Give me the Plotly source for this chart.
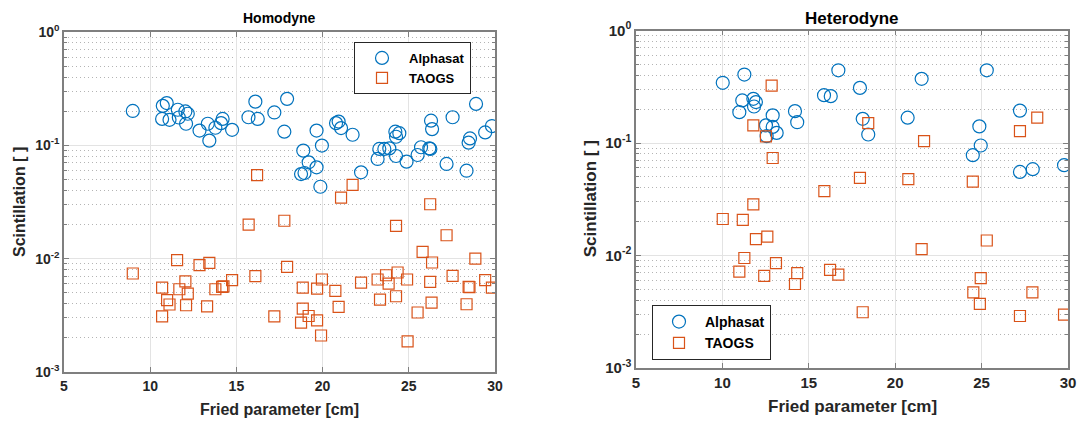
import plotly.graph_objects as go

# ---------------- data ----------------
# Homodyne (left panel)
homo_alphasat_r0 = [8.99, 10.73, 10.96, 10.69, 11.12, 11.60, 11.66, 12.04, 12.18, 12.08,
                    12.86, 13.34, 13.43, 13.78, 14.20, 14.11, 14.75, 15.70, 16.10, 16.24,
                    17.20, 17.94, 17.78, 18.88, 18.75, 18.95, 19.19, 19.65, 19.96, 19.65,
                    19.87, 20.78, 20.93, 21.07, 21.74, 22.23, 23.19, 23.29, 23.58, 23.87,
                    24.26, 24.22, 24.26, 24.45, 24.87, 25.51, 25.71, 26.19, 26.25, 26.29,
                    26.35, 27.19, 27.54, 28.35, 28.47, 28.55, 28.90, 29.43, 29.82]
homo_alphasat_sc = [0.201, 0.223, 0.236, 0.171, 0.168, 0.206, 0.176, 0.199, 0.190, 0.155,
                    0.135, 0.155, 0.110, 0.143, 0.171, 0.157, 0.137, 0.177, 0.243, 0.171,
                    0.195, 0.257, 0.132, 0.0898, 0.0558, 0.0570, 0.0708, 0.064, 0.0995, 0.135,
                    0.0431, 0.157, 0.162, 0.142, 0.124, 0.0578, 0.0758, 0.093, 0.093, 0.094,
                    0.0805, 0.132, 0.119, 0.128, 0.0718, 0.0822, 0.0962, 0.094, 0.093, 0.165,
                    0.139, 0.0685, 0.177, 0.0597, 0.1056, 0.115, 0.232, 0.130, 0.148]

homo_taogs_r0 = [16.20, 15.71, 17.78, 11.56, 12.86, 13.43, 8.99, 17.94, 16.10, 12.04,
                 14.75, 10.69, 11.69, 12.18, 13.78, 14.17, 14.25, 10.98, 11.12, 12.08,
                 13.30, 10.69, 17.20, 18.85, 18.85, 18.75, 21.74, 21.07, 26.24, 24.26,
                 27.19, 25.80, 26.35, 28.86, 19.96, 19.68, 20.74, 22.23, 23.19, 23.68,
                 23.83, 24.35, 24.90, 26.24, 27.54, 28.47, 28.52, 29.43, 29.82, 23.33,
                 24.26, 26.32, 28.35, 20.93, 19.19, 19.68, 19.91, 25.51, 24.93]
homo_taogs_sc = [0.0547, 0.0200, 0.0216, 0.0097, 0.00876, 0.00918, 0.0074, 0.00846, 0.0070, 0.0063,
                 0.00646, 0.00556, 0.00537, 0.00492, 0.00537, 0.00563, 0.0057, 0.0043, 0.00394, 0.00388,
                 0.0038, 0.0031, 0.0031, 0.00556, 0.00362, 0.00273, 0.0447, 0.0345, 0.0302, 0.0195,
                 0.0161, 0.0115, 0.00925, 0.0100, 0.00655, 0.00545, 0.0052, 0.00615, 0.00655, 0.00714,
                 0.00603, 0.00755, 0.00655, 0.00624, 0.00705, 0.00563, 0.0056, 0.00646, 0.00556, 0.00435,
                 0.00466, 0.0041, 0.00396, 0.00375, 0.00312, 0.00286, 0.0021, 0.00335, 0.00186]

# Heterodyne (right panel)
het_alphasat_r0 = [10.02, 11.27, 11.15, 10.98, 11.79, 11.94, 11.83, 12.91, 12.52, 12.91,
                   13.14, 12.56, 14.20, 14.33, 15.88, 16.27, 16.71, 17.96, 18.12, 18.44,
                   21.53, 20.72, 25.30, 24.87, 24.95, 24.49, 27.22, 27.22, 27.96, 29.77]
het_alphasat_sc = [0.343, 0.406, 0.239, 0.188, 0.247, 0.231, 0.211, 0.176, 0.1435, 0.139,
                   0.123, 0.115, 0.192, 0.153, 0.266, 0.261, 0.443, 0.309, 0.164, 0.119,
                   0.372, 0.168, 0.443, 0.1405, 0.095, 0.0779, 0.194, 0.0553, 0.0585, 0.0635]

het_taogs_r0 = [12.85, 11.79, 12.52, 12.91, 15.90, 17.96, 18.44, 21.67, 27.22, 28.22,
                20.76, 24.49, 11.79, 10.02, 11.18, 11.94, 12.60, 11.27, 10.98, 13.10,
                12.42, 14.33, 14.20, 16.23, 16.71, 25.30, 21.53, 24.95, 24.52, 24.90,
                27.94, 18.12, 27.22, 29.77]
het_taogs_sc = [0.324, 0.1435, 0.1146, 0.0736, 0.0374, 0.049, 0.150, 0.104, 0.1277, 0.168,
                0.0478, 0.0453, 0.0285, 0.0211, 0.0207, 0.0140, 0.0147, 0.0095, 0.0072, 0.00857,
                0.0066, 0.00698, 0.00558, 0.00746, 0.00675, 0.0136, 0.0114, 0.0063, 0.0047, 0.00372,
                0.0047, 0.00313, 0.0029, 0.00298]

x_ticks = [5, 10, 15, 20, 25, 30]
y_ticks = [1e-3, 1e-2, 1e-1, 1]
y_ticktext = ["10<sup>-3</sup>", "10<sup>-2</sup>", "10<sup>-1</sup>", "10<sup>0</sup>"]
y_minor = [m * 10.0 ** e for e in (-3, -2, -1) for m in range(2, 10)]

series_names = ["Alphasat", "TAOGS"]
panel_titles = ["Homodyne", "Heterodyne"]
x_title = "Fried parameter [cm]"
y_title = "Scintillation [ ]"

# ---------------- styling ----------------
BLUE = "#0072BD"
ORANGE = "#D95319"
FONT = "Liberation Sans, Arial, sans-serif"
W, H = 1077, 422

fig = go.Figure()

panels = [
    dict(x=(homo_alphasat_r0, homo_taogs_r0), y=(homo_alphasat_sc, homo_taogs_sc),
         xa="x", ya="y", legend="legend", px=(64, 495), py=(32, 372),
         tick=14, lab=16, tit=14, leg=13),
    dict(x=(het_alphasat_r0, het_taogs_r0), y=(het_alphasat_sc, het_taogs_sc),
         xa="x2", ya="y2", legend="legend2", px=(636, 1068), py=(30.5, 368),
         tick=15, lab=17, tit=17, leg=14),
]

for i, p in enumerate(panels):
    for k, (name, sym, col, size) in enumerate([(series_names[0], "circle-open", BLUE, 13),
                                                 (series_names[1], "square-open", ORANGE, 11)]):
        fig.add_trace(go.Scatter(
            x=p["x"][k], y=p["y"][k], mode="markers", name=name,
            marker=dict(symbol=sym, size=size, color=col, line=dict(width=1.2, color=col)),
            xaxis=p["xa"], yaxis=p["ya"], legend=p["legend"]))

def axis_common(tickfs):
    return dict(
        automargin=False,
        showline=True, linecolor="#7f7f7f", linewidth=1.5, mirror="ticks",
        ticks="inside", ticklen=5, tickcolor="#7f7f7f", tickwidth=1,
        showgrid=True, gridcolor="#e3e3e3", gridwidth=1, zeroline=False,
        tickfont=dict(family=FONT, size=tickfs, color="#262626", weight="bold"),
    )

layout = dict(
    width=W, height=H, margin=dict(l=0, r=0, t=0, b=0, autoexpand=False),
    paper_bgcolor="white", plot_bgcolor="white", showlegend=True,
    font=dict(family=FONT, size=14, color="#262626"),
)

annotations = []
for i, p in enumerate(panels):
    sfx = "" if i == 0 else "2"
    x0, x1 = p["px"]
    y0, y1 = p["py"]
    xd = [x0 / W, x1 / W]
    yd = [(H - y1) / H, (H - y0) / H]
    xa = axis_common(p["tick"])
    xa.update(domain=xd, range=[5, 30], tickvals=x_ticks, anchor="y" + sfx)
    ya = axis_common(p["tick"])
    ya.update(domain=yd, type="log", range=[-3, 0], tickvals=y_ticks, ticktext=y_ticktext,
              anchor="x" + sfx,
              minor=dict(tickmode="array", tickvals=y_minor, ticks="inside", ticklen=3,
                         tickcolor="#7f7f7f", showgrid=True, gridcolor="#b4b4b4",
                         griddash="1px,3px", gridwidth=1))
    layout["xaxis" + sfx] = xa
    layout["yaxis" + sfx] = ya

    cx = (x0 + x1) / 2 / W
    annotations.append(dict(text="<b>%s</b>" % panel_titles[i], x=cx, y=(H - 18) / H,
                            xref="paper", yref="paper", showarrow=False,
                            font=dict(family=FONT, size=p["tit"], color="#000000"),
                            xanchor="center", yanchor="middle"))
    annotations.append(dict(text="<b>%s</b>" % x_title, x=cx,
                            y=(H - (409 if i == 0 else 406)) / H,
                            xref="paper", yref="paper", showarrow=False,
                            font=dict(family=FONT, size=p["lab"], color="#262626"),
                            xanchor="center", yanchor="middle"))
    annotations.append(dict(text="<b>%s</b>" % y_title, x=(20 if i == 0 else 590) / W,
                            y=(H - (y0 + y1) / 2) / H, textangle=-90,
                            xref="paper", yref="paper", showarrow=False,
                            font=dict(family=FONT, size=p["lab"], color="#262626"),
                            xanchor="center", yanchor="middle"))

layout["annotations"] = annotations
layout["legend"] = dict(x=354 / W, y=(H - 42) / H, xanchor="left", yanchor="top",
                        bgcolor="white", bordercolor="#262626", borderwidth=1,
                        font=dict(family=FONT, size=13, color="#000000", weight="bold"),
                        itemwidth=44, tracegroupgap=0)
layout["legend2"] = dict(x=652 / W, y=(H - 305) / H, xanchor="left", yanchor="top",
                         bgcolor="white", bordercolor="#262626", borderwidth=1,
                         font=dict(family=FONT, size=14, color="#000000", weight="bold"),
                         itemwidth=42, tracegroupgap=0)
fig.update_layout(**layout)

fig.write_html("out.html")
